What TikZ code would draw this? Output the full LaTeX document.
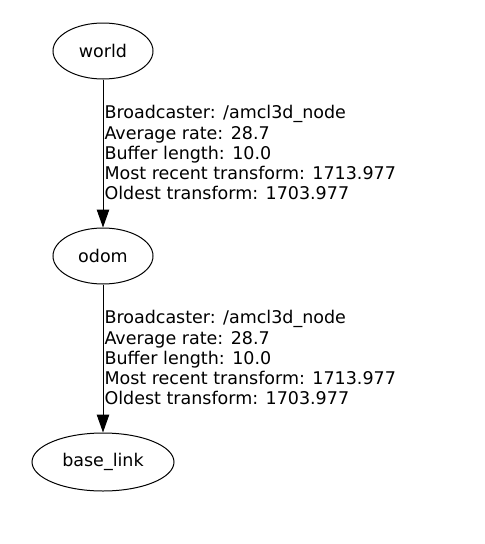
\documentclass[tikz,border=0pt]{standalone}
\usepackage{fontspec}
\setmainfont{DejaVu Sans}
\usetikzlibrary{shapes.geometric,arrows.meta}
\begin{document}
\begin{tikzpicture}[x=1pt,y=-1pt,
  frame/.style={draw=black,line width=1pt,ellipse,inner sep=0pt,font=\fontsize{17.5}{20}\selectfont},
  link/.style={draw=black,line width=1pt,-{Triangle[length=18pt,width=12.5pt]}},
  info/.style={anchor=west,align=left,inner sep=0pt,font=\fontsize{17.5}{20.25}\selectfont}]
\useasboundingbox (0,0) rectangle (485,544);
\node[frame,minimum width=100pt,minimum height=56pt] (world) at (103,51) {world};
\node[frame,minimum width=100pt,minimum height=56pt] (odom) at (103,256) {odom};
\node[frame,minimum width=142pt,minimum height=58pt] (base) at (103,462) {base\_link};
\draw[link] (world) -- node[info,xshift=1pt,yshift=0.6pt] (l1) {Broadcaster: /amcl3d\_node\\Average rate: 28.7\\Buffer length: 10.0\\Most recent transform: 1713.977\\Oldest transform: 1703.977} (odom);
\draw[link] (odom) -- node[info,xshift=1pt,yshift=0.6pt] (l2) {Broadcaster: /amcl3d\_node\\Average rate: 28.7\\Buffer length: 10.0\\Most recent transform: 1713.977\\Oldest transform: 1703.977} (base);
\end{tikzpicture}
\end{document}
